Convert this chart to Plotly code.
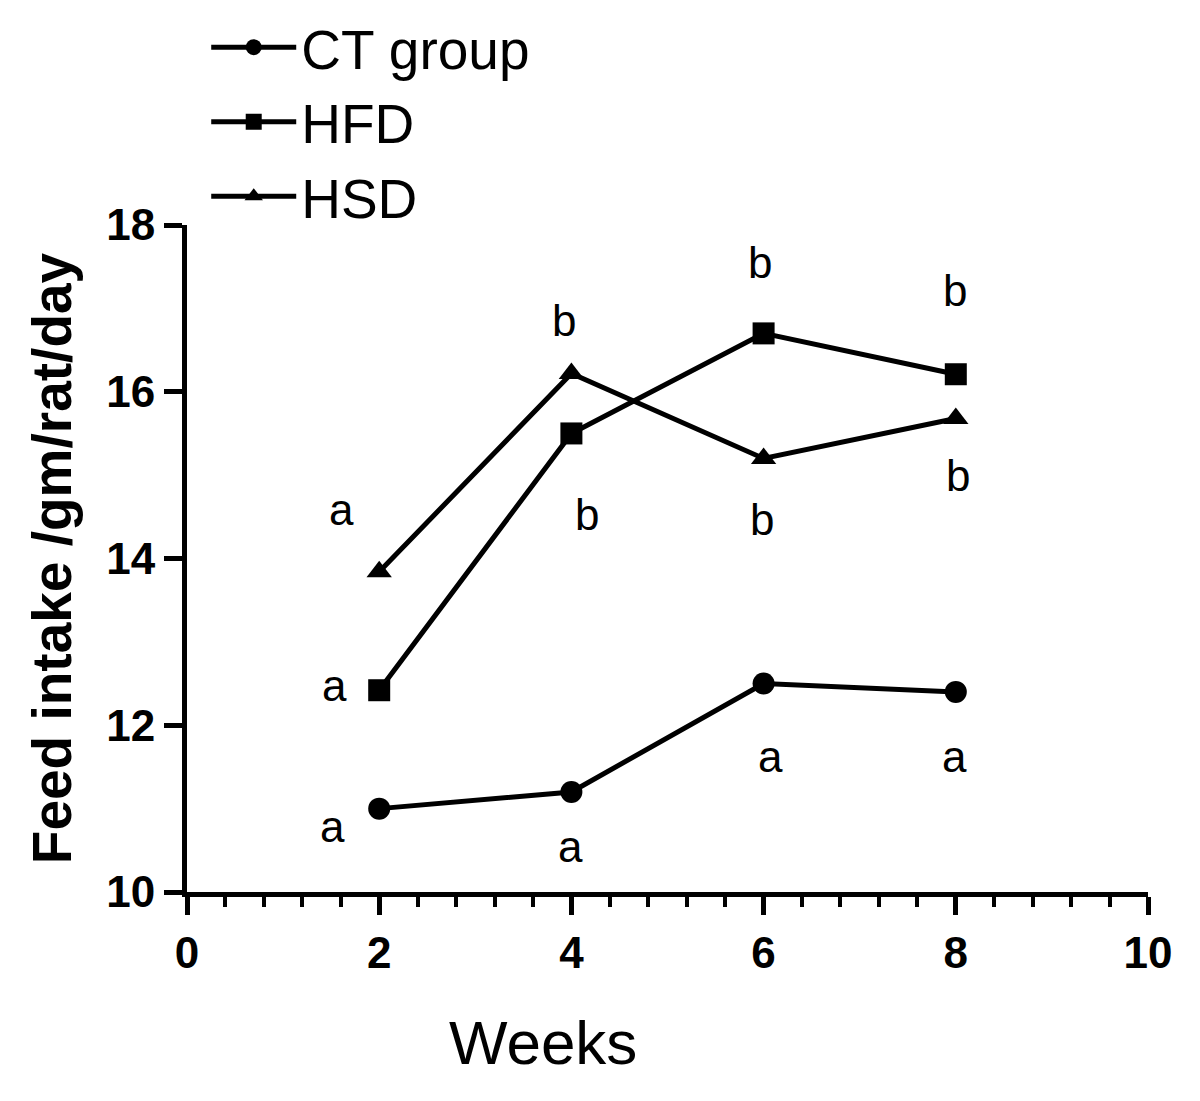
import plotly.graph_objects as go

weeks = [2, 4, 6, 8]
ct_group = [11.0, 11.2, 12.5, 12.4]
hfd = [12.42, 15.5, 16.7, 16.21]
hsd = [13.84, 16.22, 15.2, 15.68]

letters = ["a", "a", "a", "b", "b", "a", "b", "b", "a", "b", "b", "a"]
letter_x = [1.61, 1.53, 1.51, 3.92, 4.16, 3.99, 5.96, 5.98, 6.07, 7.99, 8.02, 7.99]
letter_y = [14.59, 12.48, 10.79, 16.85, 14.53, 10.55, 17.55, 14.47, 11.63, 17.22, 15.0, 11.63]

x_ticks = [0, 2, 4, 6, 8, 10]
y_ticks = [10, 12, 14, 16, 18]

FONT = "Liberation Sans, Arial, sans-serif"

fig = go.Figure()
series = [("CT group", ct_group, "circle"), ("HFD", hfd, "square"), ("HSD", hsd, "triangle-up")]
for name, vals, sym in series:
    fig.add_trace(go.Scatter(
        x=weeks, y=vals, name=name, mode="lines+markers",
        line=dict(color="black", width=5),
        marker=dict(symbol=sym, size=22, color="black"),
    ))

for t, x, y in zip(letters, letter_x, letter_y):
    fig.add_annotation(x=x, y=y, text=t, showarrow=False,
                       font=dict(family=FONT, size=44, color="black"))

fig.add_annotation(xref="paper", yref="paper", x=0.37, y=-0.225, text="Weeks",
                   showarrow=False, xanchor="center", yanchor="middle",
                   font=dict(family=FONT, size=62, color="black"))

fig.update_layout(
    width=1200, height=1101,
    paper_bgcolor="white", plot_bgcolor="white",
    margin=dict(l=179, r=60, t=217, b=217, autoexpand=False),
    font=dict(family=FONT, color="black"),
    legend=dict(x=0.02, y=1.33, xanchor="left", yanchor="top",
                font=dict(family=FONT, size=55, color="black"),
                bgcolor="rgba(0,0,0,0)", itemwidth=85, tracegroupgap=0,
                itemsizing="trace"),
    showlegend=True,
)
fig.update_xaxes(
    range=[0, 10], tickvals=x_ticks, ticktext=[str(v) for v in x_ticks],
    showgrid=False, zeroline=False, showline=True, linecolor="black", linewidth=5,
    ticks="outside", ticklen=18, tickwidth=5, tickcolor="black",
    tickfont=dict(family=FONT, size=44, color="black", weight="bold"),
    minor=dict(dtick=0.4, tick0=0, ticks="outside", ticklen=10, tickwidth=4, tickcolor="black"),
)
fig.update_yaxes(
    range=[10, 18], tickvals=y_ticks, ticktext=[str(v) for v in y_ticks],
    showgrid=False, zeroline=False, showline=True, linecolor="black", linewidth=5,
    ticks="outside", ticklen=18, tickwidth=5, tickcolor="black",
    tickfont=dict(family=FONT, size=44, color="black", weight="bold"),
    title=dict(text="Feed intake /gm/rat/day", font=dict(family=FONT, size=55, color="black", weight="bold"), standoff=18),
)

fig.write_html("out.html")
